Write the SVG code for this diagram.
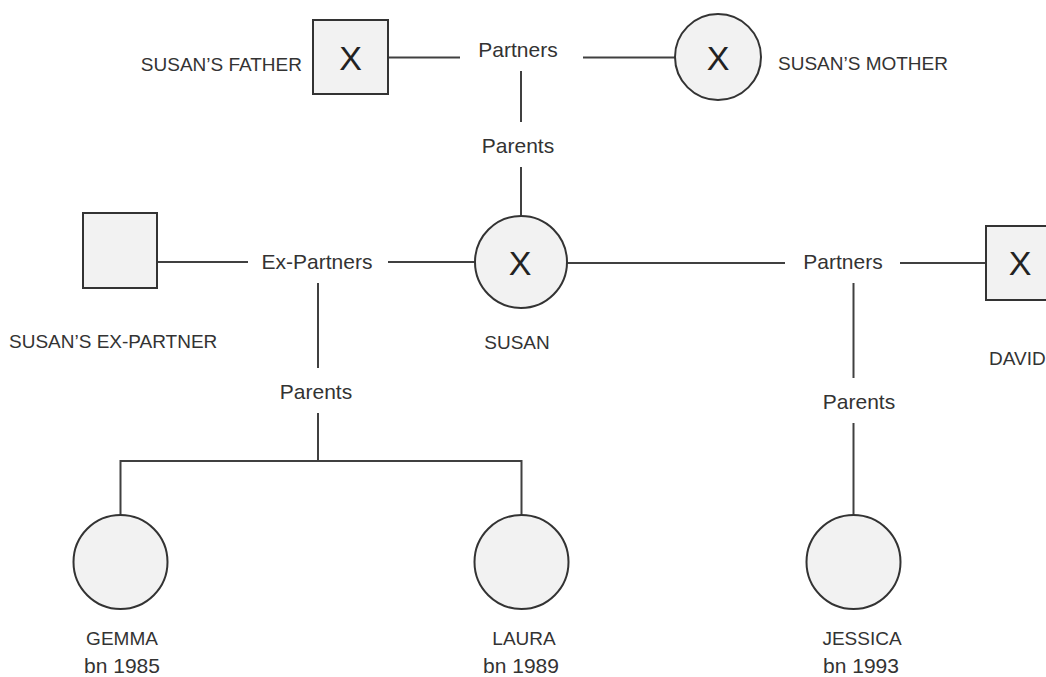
<svg xmlns="http://www.w3.org/2000/svg" width="1046" height="677" viewBox="0 0 1046 677">
<style>
.shape{fill:#f2f2f2;stroke:#333;stroke-width:2}
.ln{stroke:#404040;stroke-width:2;fill:none}
.t{font-family:"Liberation Sans",Arial,sans-serif;font-size:21px;fill:#333;text-anchor:middle}
.u{font-family:"Liberation Sans",Arial,sans-serif;font-size:19px;fill:#333}
.x{font-family:"Liberation Sans",Arial,sans-serif;font-size:34px;fill:#222;text-anchor:middle}
</style>
<rect width="1046" height="677" fill="#fff"/>
<g id="connectors">
<line class="ln" x1="388" y1="57.5" x2="460" y2="57.5"/>
<line class="ln" x1="583" y1="57.5" x2="675" y2="57.5"/>
<line class="ln" x1="521" y1="71" x2="521" y2="122"/>
<line class="ln" x1="521" y1="167" x2="521" y2="216"/>
<line class="ln" x1="157" y1="262" x2="248" y2="262"/>
<line class="ln" x1="388" y1="262" x2="475" y2="262"/>
<line class="ln" x1="567" y1="263" x2="785" y2="263"/>
<line class="ln" x1="900" y1="263" x2="986" y2="263"/>
<line class="ln" x1="318" y1="283" x2="318" y2="368"/>
<line class="ln" x1="318" y1="413" x2="318" y2="461"/>
<polyline class="ln" points="120.5,515 120.5,461 521.5,461 521.5,515"/>
<line class="ln" x1="853.5" y1="283" x2="853.5" y2="378"/>
<line class="ln" x1="853.5" y1="423" x2="853.5" y2="515"/>
</g>
<g id="label-partners-top"><text class="t" x="518" y="57">Partners</text></g>
<g id="label-parents-top"><text class="t" x="518" y="153">Parents</text></g>
<g id="label-expartners"><text class="t" x="317" y="269">Ex-Partners</text></g>
<g id="label-parents-left"><text class="t" x="316" y="399">Parents</text></g>
<g id="label-partners-right"><text class="t" x="843" y="269">Partners</text></g>
<g id="label-parents-right"><text class="t" x="859" y="409">Parents</text></g>
<g id="susans-father">
<rect class="shape" x="313" y="20" width="75" height="74"/>
<text class="x" x="350.5" y="70">X</text>
<text class="u" x="302" y="71" text-anchor="end">SUSAN’S FATHER</text>
</g>
<g id="susans-mother">
<circle class="shape" cx="718" cy="57" r="43"/>
<text class="x" x="718" y="70">X</text>
<text class="u" x="778" y="70">SUSAN’S MOTHER</text>
</g>
<g id="susans-ex-partner">
<rect class="shape" x="83" y="213" width="74" height="75"/>
<text class="u" x="9" y="348">SUSAN’S EX-PARTNER</text>
</g>
<g id="susan">
<circle class="shape" cx="521" cy="262" r="46"/>
<text class="x" x="520" y="275">X</text>
<text class="u" x="517" y="349" text-anchor="middle">SUSAN</text>
</g>
<g id="david">
<rect class="shape" x="986" y="226" width="75" height="74"/>
<text class="x" x="1020" y="275">X</text>
<text class="u" x="989" y="365">DAVID</text>
</g>
<g id="gemma">
<circle class="shape" cx="120.5" cy="562" r="47"/>
<text class="u" x="122" y="645" text-anchor="middle">GEMMA</text>
<text class="t" x="122" y="673">bn 1985</text>
</g>
<g id="laura">
<circle class="shape" cx="521.5" cy="562" r="47"/>
<text class="u" x="524" y="645" text-anchor="middle">LAURA</text>
<text class="t" x="521" y="673">bn 1989</text>
</g>
<g id="jessica">
<circle class="shape" cx="853.5" cy="562" r="47"/>
<text class="u" x="862" y="645" text-anchor="middle">JESSICA</text>
<text class="t" x="861" y="673">bn 1993</text>
</g>
</svg>
